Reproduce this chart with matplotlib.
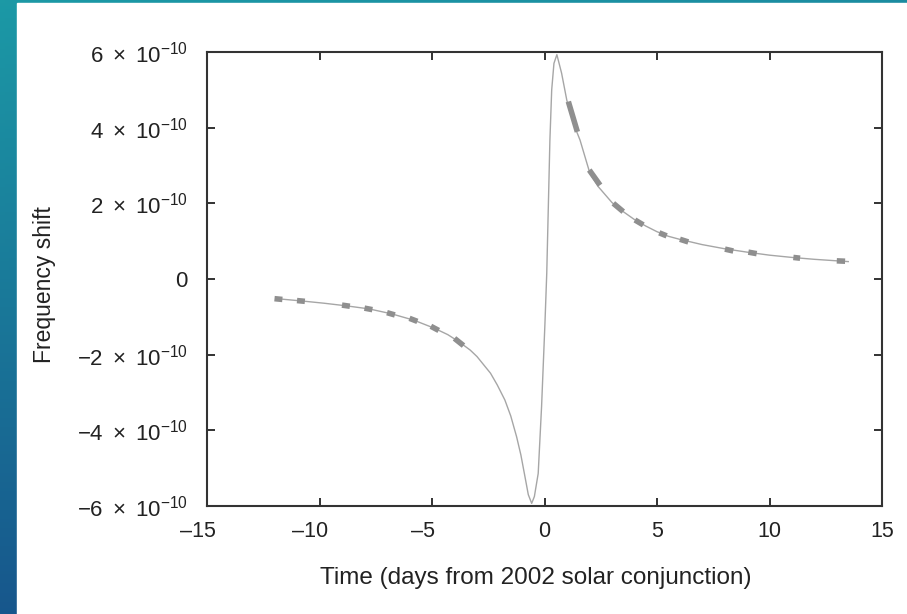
import numpy as np
import matplotlib
matplotlib.use("Agg")
import matplotlib.pyplot as plt
from matplotlib.transforms import ScaledTranslation

plt.rcParams['font.family'] = ['Liberation Sans', 'DejaVu Sans']
plt.rcParams['mathtext.fontset'] = 'custom'
plt.rcParams['mathtext.rm'] = 'Liberation Sans'
plt.rcParams['mathtext.it'] = 'Liberation Sans:italic'

# model curve (days, frequency shift in 1e-10)
model_t = [-11.9, -10.8, -9.8, -8.8, -7.8, -6.8, -5.8, -4.9, -4.3, -3.8, -3.3, -3.0,
           -2.4, -2.1, -1.76, -1.5, -1.24, -1.05, -0.87, -0.72, -0.57, -0.45, -0.28,
           -0.13, 0.02, 0.10, 0.17, 0.24, 0.32, 0.42, 0.55, 0.76, 0.99, 1.28, 1.58,
           2.02, 2.39, 3.0, 3.5, 4.0, 4.5, 5.0, 5.5, 6.0, 7.0, 8.0, 9.0, 10.0, 11.0,
           12.0, 13.0, 13.5]
model_y = [-0.52, -0.58, -0.64, -0.71, -0.79, -0.92, -1.09, -1.30, -1.47, -1.66, -1.88, -2.05,
           -2.49, -2.80, -3.20, -3.62, -4.17, -4.65, -5.22, -5.70, -5.93, -5.75, -5.14,
           -3.37, -1.17, 0.15, 1.91, 3.67, 5.00, 5.70, 5.93, 5.44, 4.73, 4.12, 3.67,
           2.79, 2.44, 2.02, 1.78, 1.57, 1.40, 1.25, 1.13, 1.05, 0.91, 0.80, 0.71, 0.63, 0.57,
           0.52, 0.48, 0.46]

# tracking passes (start/end day and measured shift)
pass_t0 = [-12.0, -11.0, -9.0, -8.0, -7.0, -6.0, -5.05, -4.0,
           1.06, 1.99, 3.06, 4.02, 5.10, 6.02, 8.02, 9.06, 11.06, 12.99]
pass_t1 = [-11.65, -10.65, -8.65, -7.65, -6.65, -5.65, -4.7, -3.6,
           1.46, 2.47, 3.50, 4.39, 5.43, 6.39, 8.39, 9.43, 11.36, 13.36]
pass_y0 = [-0.52, -0.57, -0.69, -0.77, -0.89, -1.04, -1.25, -1.57,
           4.69, 2.88, 2.00, 1.56, 1.22, 1.05, 0.79, 0.71, 0.57, 0.48]
pass_y1 = [-0.54, -0.59, -0.72, -0.81, -0.95, -1.12, -1.36, -1.76,
           3.89, 2.48, 1.78, 1.43, 1.14, 0.98, 0.74, 0.67, 0.55, 0.47]

yticks = [-6, -4, -2, 0, 2, 4, 6]
ytick_labels = [r'$-6\ \times\ 10^{-10}$', r'$-4\ \times\ 10^{-10}$', r'$-2\ \times\ 10^{-10}$', '0',
                r'$2\ \times\ 10^{-10}$', r'$4\ \times\ 10^{-10}$', r'$6\ \times\ 10^{-10}$']
xticks = [-15, -10, -5, 0, 5, 10, 15]
xtick_labels = ['\u201315', '\u201310', '\u20135', '0', '5', '10', '15']

W, H = 907, 614
fig = plt.figure(figsize=(W / 100, H / 100), dpi=100)

# slide background: teal/blue gradient frame with a white panel
bg = fig.add_axes([0, 0, 1, 1])
gy, gx = np.mgrid[0:1:200j, 0:1:200j]
top = np.array([0.11, 0.60, 0.65])
bot = np.array([0.09, 0.34, 0.55])
right = np.array([0.10, 0.47, 0.60])
img = top * (1 - gy[..., None]) + bot * gy[..., None]
img = img * (1 - 0.4 * gx[..., None]) + right * 0.4 * gx[..., None]
bg.imshow(img, extent=[0, 1, 0, 1], aspect='auto', origin='upper')
bg.add_patch(plt.Rectangle((17 / W, 0), 1, 1 - 3 / H, color='white'))
bg.set_xlim(0, 1)
bg.set_ylim(0, 1)
bg.axis('off')

ax = fig.add_axes([207 / W, 108 / H, 675 / W, 454 / H])
ax.plot(model_t, model_y, color='#a6a6a6', lw=1.0)
for t0, t1, y0, y1 in zip(pass_t0, pass_t1, pass_y0, pass_y1):
    ax.plot([t0, t1], [y0, y1], color='#8f8f8f', lw=4.0, solid_capstyle='butt')

ax.set_xlim(-15, 15)
ax.set_ylim(-6, 6)
ax.set_xticks(xticks)
ax.set_xticklabels(xtick_labels)
ax.set_yticks(yticks)
ax.set_yticklabels(ytick_labels)
ax.tick_params(direction='in', length=6, width=1.3, top=True, right=True,
               labelsize=15.5, colors='#222222', pad=11)
ax.tick_params(axis='y', pad=14, labelsize=16)
for s in ax.spines.values():
    s.set_linewidth(1.5)
    s.set_color('#333333')

# minus signs hang to the left of the centred digits
for v, lab in zip(xticks, ax.get_xticklabels()):
    if v < 0:
        lab.set_transform(lab.get_transform() + ScaledTranslation(-0.09, 0, fig.dpi_scale_trans))

fig.text(536 / W, 1 - 578 / H, 'Time (days from 2002 solar conjunction)',
         ha='center', va='center', fontsize=17.5, color='#222222')
fig.text(45 / W, 1 - 285 / H, 'Frequency shift', rotation=90,
         ha='center', va='center', fontsize=16.5, color='#222222')

fig.savefig('out.png', dpi=100)
